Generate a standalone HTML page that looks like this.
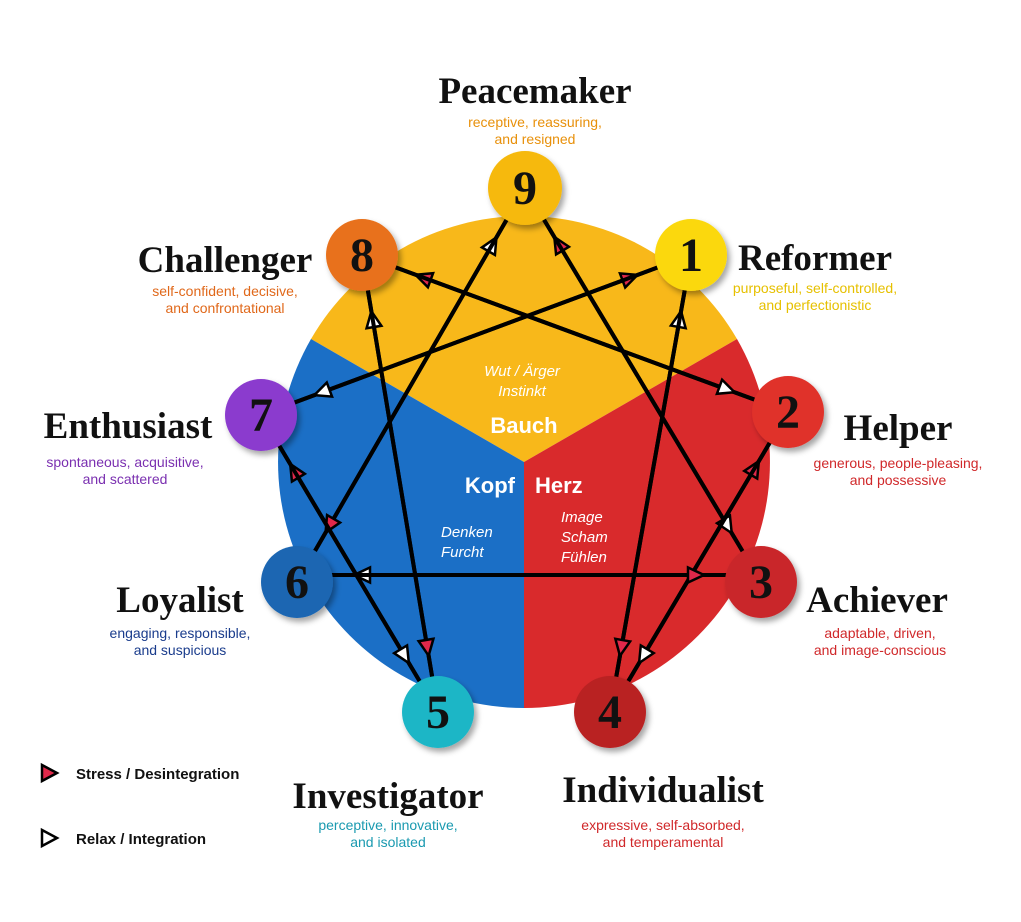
<!DOCTYPE html>
<html><head><meta charset="utf-8"><style>
html,body{margin:0;padding:0;background:#fff;}
svg{display:block;}
.t{font-family:"Liberation Serif",serif;font-weight:bold;font-size:37px;fill:#111;text-anchor:middle;}
.s{font-family:"Liberation Sans",sans-serif;font-size:14px;text-anchor:middle;}
.n{font-family:"Liberation Serif",serif;font-weight:bold;font-size:48px;fill:#111;text-anchor:middle;}
.w{font-family:"Liberation Sans",sans-serif;fill:#fff;}
</style></head><body>
<svg width="1021" height="922" viewBox="0 0 1021 922" xmlns="http://www.w3.org/2000/svg">
<defs>
<marker id="mr" markerUnits="userSpaceOnUse" markerWidth="10" markerHeight="10" refX="0" refY="0" orient="auto" overflow="visible"><path d="M-73,-7.5 L-73,7.5 L-57,0 Z" fill="#e0284a" stroke="#000" stroke-width="2.5"/></marker>
<marker id="mw" markerUnits="userSpaceOnUse" markerWidth="10" markerHeight="10" refX="0" refY="0" orient="auto" overflow="visible"><path d="M-73,-7.5 L-73,7.5 L-57,0 Z" fill="#fff" stroke="#000" stroke-width="2.5"/></marker>
<filter id="sh" x="-30%" y="-30%" width="160%" height="160%"><feDropShadow dx="3" dy="4" stdDeviation="3" flood-opacity="0.35"/></filter>
</defs>
<path d="M524,462 L311,339 A246,246 0 0 1 737,339 Z" fill="#f8b81a"/>
<path d="M524,462 L737,339 A246,246 0 0 1 524,708 Z" fill="#d92a2c"/>
<path d="M524,462 L524,708 A246,246 0 0 1 311,339 Z" fill="#1b6fc6"/>
<text x="522" y="376" class="w" font-size="15" font-style="italic" text-anchor="middle">Wut / Ärger</text>
<text x="522" y="396" class="w" font-size="15" font-style="italic" text-anchor="middle">Instinkt</text>
<text x="524" y="433" class="w" font-size="22" font-weight="bold" text-anchor="middle">Bauch</text>
<text x="515" y="493" class="w" font-size="22" font-weight="bold" text-anchor="end">Kopf</text>
<text x="535" y="493" class="w" font-size="22" font-weight="bold">Herz</text>
<text x="441" y="537" class="w" font-size="15" font-style="italic">Denken</text>
<text x="441" y="557" class="w" font-size="15" font-style="italic">Furcht</text>
<text x="561" y="522" class="w" font-size="15" font-style="italic">Image</text>
<text x="561" y="542" class="w" font-size="15" font-style="italic">Scham</text>
<text x="561" y="562" class="w" font-size="15" font-style="italic">Fühlen</text>
<g stroke="#000" stroke-width="4">
<line x1="297" y1="582" x2="525" y2="188" marker-end="url(#mw)"/>
<line x1="761" y1="582" x2="525" y2="188" marker-end="url(#mr)"/>
<line x1="525" y1="188" x2="761" y2="582" marker-end="url(#mw)"/>
<line x1="525" y1="188" x2="297" y2="582" marker-end="url(#mr)"/>
<line x1="788" y1="412" x2="362" y2="255" marker-end="url(#mr)"/>
<line x1="362" y1="255" x2="788" y2="412" marker-end="url(#mw)"/>
<line x1="438" y1="712" x2="362" y2="255" marker-end="url(#mw)"/>
<line x1="362" y1="255" x2="438" y2="712" marker-end="url(#mr)"/>
<line x1="261" y1="415" x2="691" y2="255" marker-end="url(#mr)"/>
<line x1="691" y1="255" x2="261" y2="415" marker-end="url(#mw)"/>
<line x1="610" y1="712" x2="691" y2="255" marker-end="url(#mw)"/>
<line x1="691" y1="255" x2="610" y2="712" marker-end="url(#mr)"/>
<line x1="438" y1="712" x2="261" y2="415" marker-end="url(#mr)"/>
<line x1="261" y1="415" x2="438" y2="712" marker-end="url(#mw)"/>
<line x1="610" y1="712" x2="788" y2="412" marker-end="url(#mr)"/>
<line x1="788" y1="412" x2="610" y2="712" marker-end="url(#mw)"/>
<line x1="761" y1="575" x2="297" y2="575" marker-end="url(#mw)"/>
<line x1="297" y1="575" x2="761" y2="575" marker-end="url(#mr)"/>
</g>
<g filter="url(#sh)">
<circle cx="525" cy="188" r="37" fill="#f6b90c"/>
<circle cx="691" cy="255" r="36" fill="#fbd80e"/>
<circle cx="788" cy="412" r="36" fill="#e0302a"/>
<circle cx="761" cy="582" r="36" fill="#c9282a"/>
<circle cx="610" cy="712" r="36" fill="#b92023"/>
<circle cx="438" cy="712" r="36" fill="#1cb6c6"/>
<circle cx="297" cy="582" r="36" fill="#1a66b2"/>
<circle cx="261" cy="415" r="36" fill="#8b3bce"/>
<circle cx="362" cy="255" r="36" fill="#e8711a"/>
</g>
<text x="525" y="204" class="n">9</text>
<text x="691" y="271" class="n">1</text>
<text x="788" y="428" class="n">2</text>
<text x="761" y="598" class="n">3</text>
<text x="610" y="728" class="n">4</text>
<text x="438" y="728" class="n">5</text>
<text x="297" y="598" class="n">6</text>
<text x="261" y="431" class="n">7</text>
<text x="362" y="271" class="n">8</text>

<text x="535" y="103" class="t">Peacemaker</text>
<text x="535" y="127" class="s" fill="#e8900a">receptive, reassuring,</text>
<text x="535" y="144" class="s" fill="#e8900a">and resigned</text>
<text x="225" y="272" class="t">Challenger</text>
<text x="225" y="296" class="s" fill="#e0681a">self-confident, decisive,</text>
<text x="225" y="313" class="s" fill="#e0681a">and confrontational</text>
<text x="815" y="270" class="t">Reformer</text>
<text x="815" y="293" class="s" fill="#e6c000">purposeful, self-controlled,</text>
<text x="815" y="310" class="s" fill="#e6c000">and perfectionistic</text>
<text x="128" y="438" class="t">Enthusiast</text>
<text x="125" y="467" class="s" fill="#7a2fb0">spontaneous, acquisitive,</text>
<text x="125" y="484" class="s" fill="#7a2fb0">and scattered</text>
<text x="898" y="440" class="t">Helper</text>
<text x="898" y="468" class="s" fill="#d0282a">generous, people-pleasing,</text>
<text x="898" y="485" class="s" fill="#d0282a">and possessive</text>
<text x="180" y="612" class="t">Loyalist</text>
<text x="180" y="638" class="s" fill="#1a3c8c">engaging, responsible,</text>
<text x="180" y="655" class="s" fill="#1a3c8c">and suspicious</text>
<text x="877" y="612" class="t">Achiever</text>
<text x="880" y="638" class="s" fill="#d0282a">adaptable, driven,</text>
<text x="880" y="655" class="s" fill="#d0282a">and image-conscious</text>
<text x="388" y="808" class="t">Investigator</text>
<text x="388" y="830" class="s" fill="#1a9ab0">perceptive, innovative,</text>
<text x="388" y="847" class="s" fill="#1a9ab0">and isolated</text>
<text x="663" y="802" class="t">Individualist</text>
<text x="663" y="830" class="s" fill="#d0282a">expressive, self-absorbed,</text>
<text x="663" y="847" class="s" fill="#d0282a">and temperamental</text>

<path d="M42,765 L42,781 L57,773 Z" fill="#e0284a" stroke="#000" stroke-width="2.5"/>
<text x="76" y="779" font-family="Liberation Sans,sans-serif" font-weight="bold" font-size="15" fill="#111">Stress / Desintegration</text>
<path d="M42,830 L42,846 L57,838 Z" fill="#fff" stroke="#000" stroke-width="2.5"/>
<text x="76" y="844" font-family="Liberation Sans,sans-serif" font-weight="bold" font-size="15" fill="#111">Relax / Integration</text>
</svg>
</body></html>
